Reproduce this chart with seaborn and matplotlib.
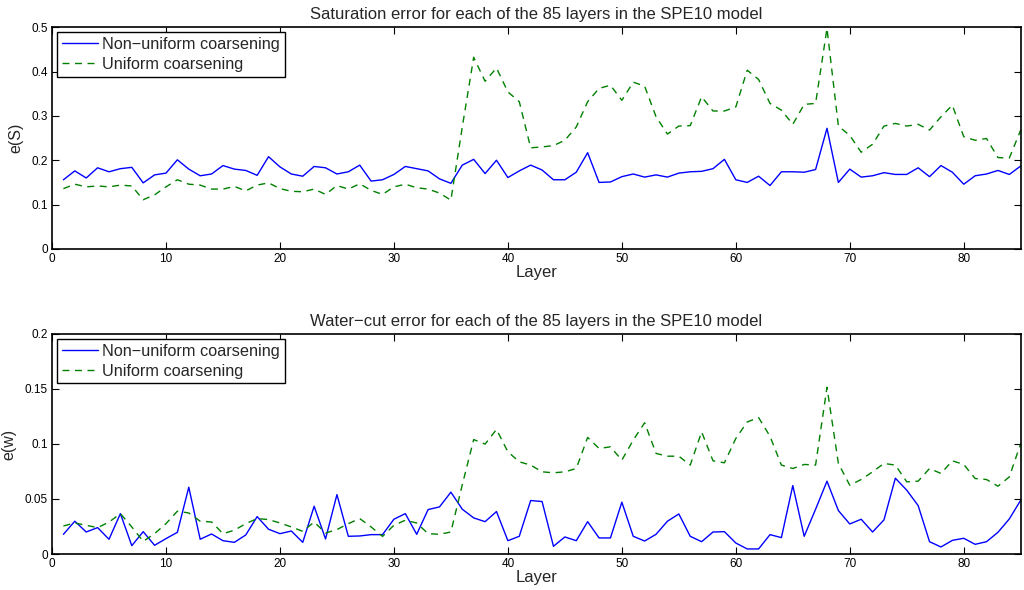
import numpy as np
import pandas as pd
import matplotlib
matplotlib.use("Agg")
import matplotlib.pyplot as plt
import seaborn as sns
from matplotlib.ticker import FormatStrFormatter

layers = list(range(1, 86))

sat_nonuniform = [
    0.156, 0.176, 0.160, 0.183, 0.174, 0.181, 0.184, 0.149, 0.167, 0.171,
    0.201, 0.180, 0.165, 0.169, 0.188, 0.180, 0.177, 0.166, 0.208, 0.185,
    0.169, 0.164, 0.186, 0.183, 0.169, 0.174, 0.189, 0.153, 0.156, 0.168,
    0.186, 0.181, 0.176, 0.158, 0.148, 0.189, 0.202, 0.170, 0.200, 0.161,
    0.176, 0.189, 0.178, 0.156, 0.156, 0.173, 0.217, 0.150, 0.151, 0.163,
    0.169, 0.162, 0.167, 0.162, 0.171, 0.174, 0.175, 0.181, 0.202, 0.156,
    0.150, 0.164, 0.143, 0.174, 0.174, 0.173, 0.179, 0.272, 0.150, 0.180,
    0.162, 0.165, 0.172, 0.168, 0.168, 0.183, 0.163, 0.188, 0.173, 0.146,
    0.165, 0.169, 0.177, 0.168, 0.187,
]
sat_uniform = [
    0.136, 0.146, 0.140, 0.142, 0.140, 0.144, 0.142, 0.111, 0.122, 0.140,
    0.156, 0.146, 0.144, 0.135, 0.135, 0.141, 0.131, 0.144, 0.149, 0.136,
    0.130, 0.129, 0.135, 0.123, 0.143, 0.135, 0.147, 0.132, 0.123, 0.140,
    0.146, 0.138, 0.135, 0.126, 0.110, 0.275, 0.432, 0.378, 0.408, 0.354,
    0.332, 0.228, 0.230, 0.233, 0.245, 0.275, 0.332, 0.362, 0.369, 0.335,
    0.376, 0.367, 0.298, 0.259, 0.277, 0.278, 0.343, 0.311, 0.311, 0.320,
    0.403, 0.382, 0.328, 0.313, 0.281, 0.326, 0.328, 0.497, 0.277, 0.256,
    0.218, 0.236, 0.277, 0.283, 0.277, 0.281, 0.268, 0.298, 0.324, 0.253,
    0.245, 0.249, 0.206, 0.205, 0.268,
]
wc_nonuniform = [
    0.0179, 0.0298, 0.0200, 0.0240, 0.0134, 0.0367, 0.0076, 0.0203, 0.0079, 0.0140,
    0.0197, 0.0607, 0.0134, 0.0182, 0.0121, 0.0106, 0.0173, 0.0340, 0.0225, 0.0185,
    0.0209, 0.0106, 0.0434, 0.0137, 0.0540, 0.0161, 0.0164, 0.0176, 0.0176, 0.0316,
    0.0367, 0.0179, 0.0404, 0.0428, 0.0562, 0.0407, 0.0328, 0.0294, 0.0386, 0.0121,
    0.0161, 0.0486, 0.0477, 0.0070, 0.0155, 0.0121, 0.0294, 0.0146, 0.0146, 0.0471,
    0.0161, 0.0118, 0.0179, 0.0298, 0.0364, 0.0161, 0.0112, 0.0200, 0.0203, 0.0100,
    0.0046, 0.0046, 0.0176, 0.0149, 0.0622, 0.0161, 0.0407, 0.0662, 0.0395, 0.0273,
    0.0316, 0.0200, 0.0310, 0.0689, 0.0580, 0.0440, 0.0112, 0.0064, 0.0124, 0.0143,
    0.0088, 0.0112, 0.0197, 0.0319, 0.0489,
]
wc_uniform = [
    0.0255, 0.0282, 0.0261, 0.0240, 0.0290, 0.0367, 0.0246, 0.0115, 0.0185, 0.0276,
    0.0389, 0.0373, 0.0298, 0.0291, 0.0185, 0.0216, 0.0276, 0.0322, 0.0313, 0.0282,
    0.0246, 0.0206, 0.0291, 0.0191, 0.0222, 0.0276, 0.0322, 0.0246, 0.0160, 0.0261,
    0.0307, 0.0282, 0.0185, 0.0179, 0.0200, 0.0630, 0.1040, 0.0999, 0.1132, 0.0929,
    0.0838, 0.0808, 0.0747, 0.0738, 0.0747, 0.0777, 0.1060, 0.0959, 0.0974, 0.0853,
    0.1035, 0.1193, 0.0914, 0.0889, 0.0889, 0.0808, 0.1110, 0.0847, 0.0829, 0.1050,
    0.1200, 0.1240, 0.1070, 0.0808, 0.0777, 0.0814, 0.0808, 0.1515, 0.0823, 0.0625,
    0.0677, 0.0747, 0.0823, 0.0808, 0.0656, 0.0662, 0.0777, 0.0732, 0.0847, 0.0814,
    0.0686, 0.0677, 0.0616, 0.0701, 0.1005,
]

series_labels = ["Non\u2212uniform coarsening", "Uniform coarsening"]
titles = ["Saturation error for each of the 85 layers in the SPE10 model",
          "Water\u2212cut error for each of the 85 layers in the SPE10 model"]
ylabels = ["e(S)", "e(w)"]
xticks = [0, 10, 20, 30, 40, 50, 60, 70, 80]
yticks_top = [0, 0.1, 0.2, 0.3, 0.4, 0.5]
yticks_bot = [0, 0.05, 0.1, 0.15, 0.2]

sns.set_style("ticks")
plt.rcParams["font.family"] = ["Liberation Sans", "DejaVu Sans"]

fig = plt.figure(figsize=(10.24, 5.9), dpi=100)
ax1 = fig.add_axes([0.0508, 0.578, 0.946, 0.376])
ax2 = fig.add_axes([0.0508, 0.061, 0.946, 0.373])

panels = [
    (ax1, sat_nonuniform, sat_uniform, yticks_top, 0.5),
    (ax2, wc_nonuniform, wc_uniform, yticks_bot, 0.2),
]
for i, (ax, nu, un, yt, ymax) in enumerate(panels):
    df = pd.DataFrame({"Layer": layers, "nu": nu, "un": un})
    sns.lineplot(data=df, x="Layer", y="nu", ax=ax, color="#0000ff", lw=1.0,
                 label=series_labels[0])
    sns.lineplot(data=df, x="Layer", y="un", ax=ax, color="#008000", lw=1.0,
                 linestyle=(0, (5, 4)), label=series_labels[1])
    ax.set_xlim(0, 85)
    ax.set_ylim(0, ymax)
    ax.set_xticks(xticks)
    ax.set_yticks(yt)
    ax.yaxis.set_major_formatter(FormatStrFormatter("%g"))
    ax.tick_params(direction="in", top=True, right=True, length=5, width=0.8,
                   labelsize=8.5, pad=3, colors="black")
    for s in ax.spines.values():
        s.set_visible(True)
        s.set_linewidth(1.2)
        s.set_color("black")
    ax.set_xlabel("Layer", fontsize=12, labelpad=0)
    ax.set_ylabel(ylabels[i], fontsize=11.5, labelpad=6)
    ax.set_title(titles[i], fontsize=12, pad=6)
    leg = ax.legend(loc="upper left", fontsize=11.7, frameon=True, fancybox=False,
                    handlelength=2.2, borderaxespad=0.3, borderpad=0.3,
                    labelspacing=0.3, handletextpad=0.3)
    leg.get_frame().set_edgecolor("black")
    leg.get_frame().set_linewidth(1.0)
    leg.get_frame().set_alpha(1)

fig.savefig("out.png", dpi=100)
